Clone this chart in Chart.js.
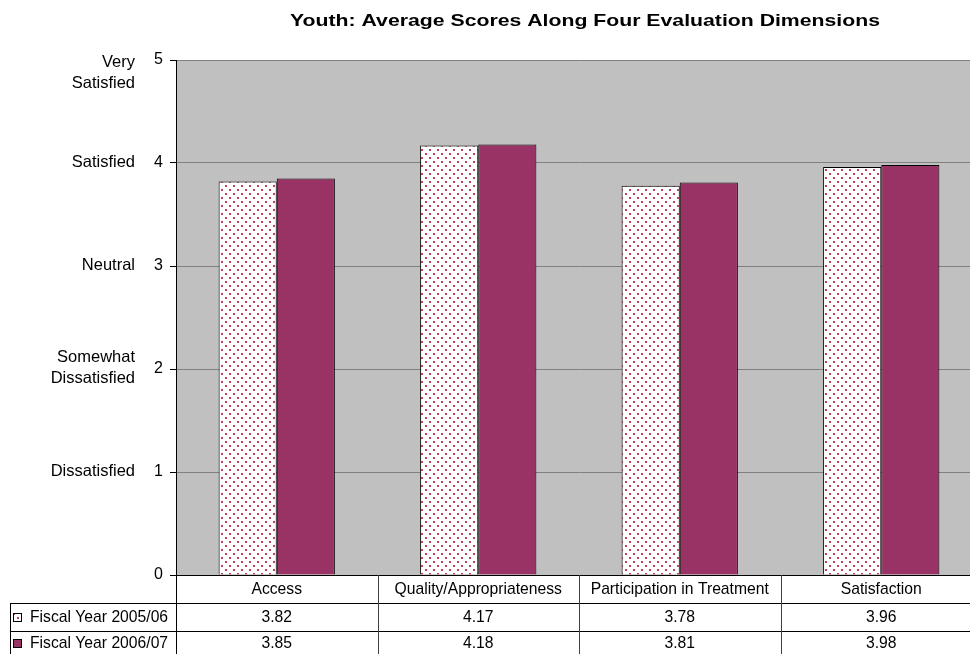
<!DOCTYPE html>
<html>
<head>
<meta charset="utf-8">
<script src="https://cdn.jsdelivr.net/npm/chart.js@4/dist/chart.umd.min.js"></script>
<style>
  html, body { margin: 0; padding: 0; background: #ffffff; overflow: hidden; }
  #wrap { width: 970px; height: 654px; position: relative; overflow: hidden; }
  #c { display: block; }
</style>
</head>
<body>
<div id="wrap"><canvas id="c" width="982" height="654"></canvas></div>
<script>
// Evaluation dimensions and average scores per fiscal year
const categories = ['Access', 'Quality/Appropriateness', 'Participation in Treatment', 'Satisfaction'];
const fy0506 = [3.82, 4.17, 3.78, 3.96];
const fy0607 = [3.85, 4.18, 3.81, 3.98];
const seriesNames = ['Fiscal Year 2005/06', 'Fiscal Year 2006/07'];
// Rating words for each score level 0..5
const scaleWords = [[], ['Dissatisfied'], ['Somewhat', 'Dissatisfied'], ['Neutral'], ['Satisfied'], ['Very', 'Satisfied']];
const chartTitle = 'Youth: Average Scores Along Four Evaluation Dimensions';

const FONT = '"Liberation Sans", Arial, sans-serif';
const PLOT_BG = '#c0c0c0';
const MAROON = '#993366';

// Dotted fill for the first series
function dotPattern() {
  const t = document.createElement('canvas');
  t.width = 8; t.height = 8;
  const g = t.getContext('2d');
  g.fillStyle = '#ffffff';
  g.fillRect(0, 0, 8, 8);
  g.fillStyle = '#c0405a';
  g.fillRect(1, 1, 2, 2);
  g.fillRect(5, 5, 2, 2);
  return g.createPattern(t, 'repeat');
}
const dots = dotPattern();

const plotBackground = {
  id: 'plotBackground',
  beforeDraw(chart) {
    const { ctx, chartArea: a } = chart;
    ctx.save();
    ctx.fillStyle = PLOT_BG;
    ctx.fillRect(a.left, a.top, a.right - a.left, a.bottom - a.top);
    ctx.restore();
  }
};

const extras = {
  id: 'extras',
  afterDraw(chart) {
    const { ctx, chartArea: a } = chart;
    const xs = chart.scales.x, ys = chart.scales.y;
    ctx.save();

    // title, widened to span the plot heading
    ctx.fillStyle = '#000';
    ctx.font = 'bold 17px ' + FONT;
    ctx.textAlign = 'center';
    ctx.textBaseline = 'middle';
    const tw = ctx.measureText(chartTitle).width;
    const sx = 590 / tw;
    ctx.save();
    ctx.translate(585, 21);
    ctx.scale(sx, 1);
    ctx.fillText(chartTitle, 0, 0);
    ctx.restore();

    // rating words beside the value axis
    ctx.font = '16.5px ' + FONT;
    ctx.textAlign = 'right';
    const lh = 21.5;
    scaleWords.forEach((lines, v) => {
      if (!lines.length) return;
      const py = ys.getPixelForValue(v) - 1;
      let y0 = py - (lines.length - 1) * lh / 2;
      if (y0 - 8 < a.top && lines.length > 1) y0 = py + 3;
      lines.forEach((s, i) => ctx.fillText(s, 135, y0 + i * lh));
    });

    // data table under the plot
    const colW = (a.right - a.left) / categories.length;
    const rowH = 28;
    const top = a.bottom;
    const tableLeft = 10;
    const right = a.right;
    ctx.strokeStyle = '#000';
    ctx.lineWidth = 1;
    const hline = (x1, x2, y) => { ctx.beginPath(); ctx.moveTo(x1, Math.round(y) + 0.5); ctx.lineTo(x2, Math.round(y) + 0.5); ctx.stroke(); };
    const vline = (x, y1, y2) => { ctx.beginPath(); ctx.moveTo(Math.round(x) + 0.5, y1); ctx.lineTo(Math.round(x) + 0.5, y2); ctx.stroke(); };
    hline(a.left, right, top);
    hline(tableLeft, right, top + rowH);
    hline(tableLeft, right, top + 2 * rowH);
    hline(tableLeft, right, top + 3 * rowH);
    vline(tableLeft, top + rowH, top + 3 * rowH);
    vline(a.left, top, top + 3 * rowH);
    ctx.strokeStyle = '#404040';
    for (let i = 1; i < categories.length; i++) {
      vline(xs.getPixelForValue(i) - colW / 2, top, top + 3 * rowH);
    }

    ctx.fillStyle = '#000';
    ctx.font = '15.7px ' + FONT;
    ctx.textAlign = 'center';
    ctx.textBaseline = 'middle';
    categories.forEach((c, i) => {
      const cx = xs.getPixelForValue(i);
      ctx.fillText(c, cx, top + 14.5);
      ctx.fillText(fy0506[i].toFixed(2), cx, top + 43);
      ctx.fillText(fy0607[i].toFixed(2), cx, top + 69);
    });

    // series keys and names
    const fills = [dots, MAROON];
    const keyY = [top + 43, top + 69];
    seriesNames.forEach((n, r) => {
      const cy = keyY[r];
      ctx.fillStyle = fills[r];
      ctx.fillRect(13.5, cy - 4.5, 8, 8);
      ctx.strokeStyle = '#000';
      ctx.strokeRect(13.5, cy - 4.5, 8, 8);
      ctx.fillStyle = '#000';
      ctx.textAlign = 'left';
      ctx.fillText(n, 30, cy);
    });
    ctx.restore();
  }
};

new Chart(document.getElementById('c'), {
  type: 'bar',
  data: {
    labels: categories,
    datasets: [
      { label: seriesNames[0], data: fy0506, backgroundColor: dots, borderColor: '#000', borderWidth: 1,
        categoryPercentage: 0.577, barPercentage: 1.0 },
      { label: seriesNames[1], data: fy0607, backgroundColor: MAROON, borderColor: '#000', borderWidth: 1,
        categoryPercentage: 0.577, barPercentage: 1.0 }
    ]
  },
  options: {
    responsive: false,
    animation: false,
    layout: { padding: { top: 60, right: 0, bottom: 79, left: 0 } },
    plugins: { legend: { display: false }, title: { display: false }, tooltip: { enabled: false } },
    scales: {
      x: { display: false },
      y: {
        min: 0, max: 5,
        ticks: { stepSize: 1, color: '#000', padding: 7, font: { family: FONT, size: 16 } },
        grid: { color: '#808080', tickColor: '#000', tickLength: 6, lineWidth: 1 },
        border: { color: '#000', width: 1 },
        afterFit(scale) { scale.width = 176; }
      }
    }
  },
  plugins: [plotBackground, extras]
});
</script>
</body>
</html>
